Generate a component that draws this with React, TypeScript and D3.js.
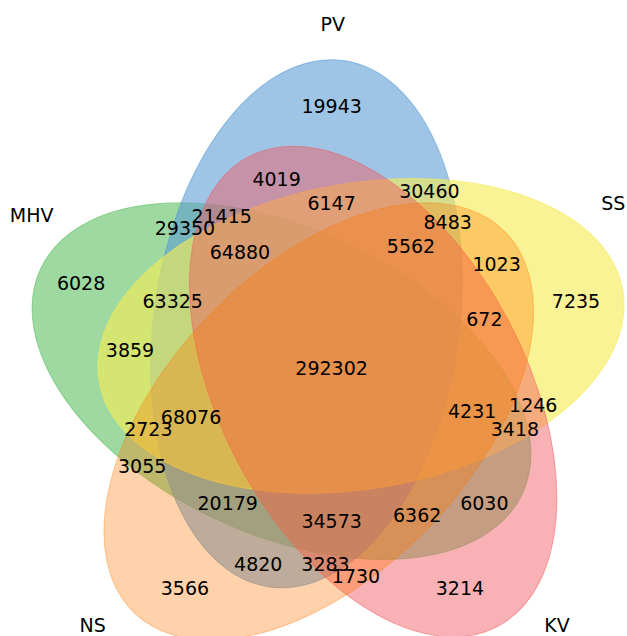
import * as d3 from "d3";

// set names, colours and ellipse geometry (pyvenn 5-set layout)
const setNames = ["MHV", "PV", "SS", "KV", "NS"];
const setColors = [
  "rgba(92,192,98,0.6)",
  "rgba(90,155,212,0.58)",
  "rgba(246,236,86,0.62)",
  "rgba(241,90,96,0.47)",
  "rgba(255,117,0,0.33)",
];
const ellipseCenters = [
  [0.428, 0.449],
  [0.469, 0.543],
  [0.558, 0.523],
  [0.578, 0.432],
  [0.489, 0.383],
];
const ellipseAngles = [155, 82, 10, 118, 46];
const ELLIPSE_W = 0.87;
const ELLIPSE_H = 0.5;

// region codes and their counts
const regionKeys = [
  "00001", "00010", "00011", "00100", "00101", "00110", "00111", "01000",
  "01001", "01010", "01011", "01100", "01101", "01110", "01111", "10000",
  "10001", "10010", "10011", "10100", "10101", "10110", "10111", "11000",
  "11001", "11010", "11011", "11100", "11101", "11110", "11111",
];
const regionValues = [
  3566, 3214, 1730, 7235, 1023, 1246, 672, 19943,
  4820, 4019, 3283, 30460, 8483, 6147, 5562, 6028,
  3055, 6030, 6362, 3859, 2723, 3418, 4231, 29350,
  20179, 21415, 34573, 63325, 68076, 64880, 292302,
];
const regionPos: [number, number][] = [
  [0.27, 0.11], [0.72, 0.11], [0.55, 0.13], [0.91, 0.58], [0.78, 0.64], [0.84, 0.41], [0.76, 0.55], [0.51, 0.90],
  [0.39, 0.15], [0.42, 0.78], [0.50, 0.15], [0.67, 0.76], [0.70, 0.71], [0.51, 0.74], [0.64, 0.67], [0.10, 0.61],
  [0.20, 0.31], [0.76, 0.25], [0.65, 0.23], [0.18, 0.50], [0.21, 0.37], [0.81, 0.37], [0.74, 0.40], [0.27, 0.70],
  [0.34, 0.25], [0.33, 0.72], [0.51, 0.22], [0.25, 0.58], [0.28, 0.39], [0.36, 0.66], [0.51, 0.47],
];
const namePos: [number, number][] = [
  [0.019, 0.721], [0.512, 1.034], [0.971, 0.740], [0.879, 0.050], [0.119, 0.050],
];

const WIDTH = 627;
const HEIGHT = 636;

export default function App() {
  const x = d3.scaleLinear().domain([0, 1]).range([20, 631]);
  const y = d3.scaleLinear().domain([0, 1]).range([655.5, 44.5]);
  const rx = (x(ELLIPSE_W) - x(0)) / 2;
  const ry = (y(0) - y(ELLIPSE_H)) / 2;

  return (
    <svg
      width={WIDTH}
      height={HEIGHT}
      style={{ position: "absolute", left: 0, top: 0, background: "#fff" }}
      fontFamily="DejaVu Sans, sans-serif"
    >
      {ellipseCenters.map((c, i) => (
        <ellipse
          key={setNames[i]}
          cx={0}
          cy={0}
          rx={rx}
          ry={ry}
          transform={`translate(${x(c[0])},${y(c[1])}) rotate(${-ellipseAngles[i]})`}
          fill={setColors[i]}
          stroke={setColors[i]}
          strokeWidth={1}
        />
      ))}
      {regionKeys.map((k, i) => (
        <text
          key={k}
          x={x(regionPos[i][0])}
          y={y(regionPos[i][1])}
          textAnchor="middle"
          dominantBaseline="central"
          fontSize={19}
          fill="#000"
        >
          {regionValues[i]}
        </text>
      ))}
      {setNames.map((n, i) => (
        <text
          key={n}
          x={x(namePos[i][0])}
          y={y(namePos[i][1])}
          textAnchor="middle"
          dominantBaseline="central"
          fontSize={19}
          fill="#000"
        >
          {n}
        </text>
      ))}
    </svg>
  );
}
